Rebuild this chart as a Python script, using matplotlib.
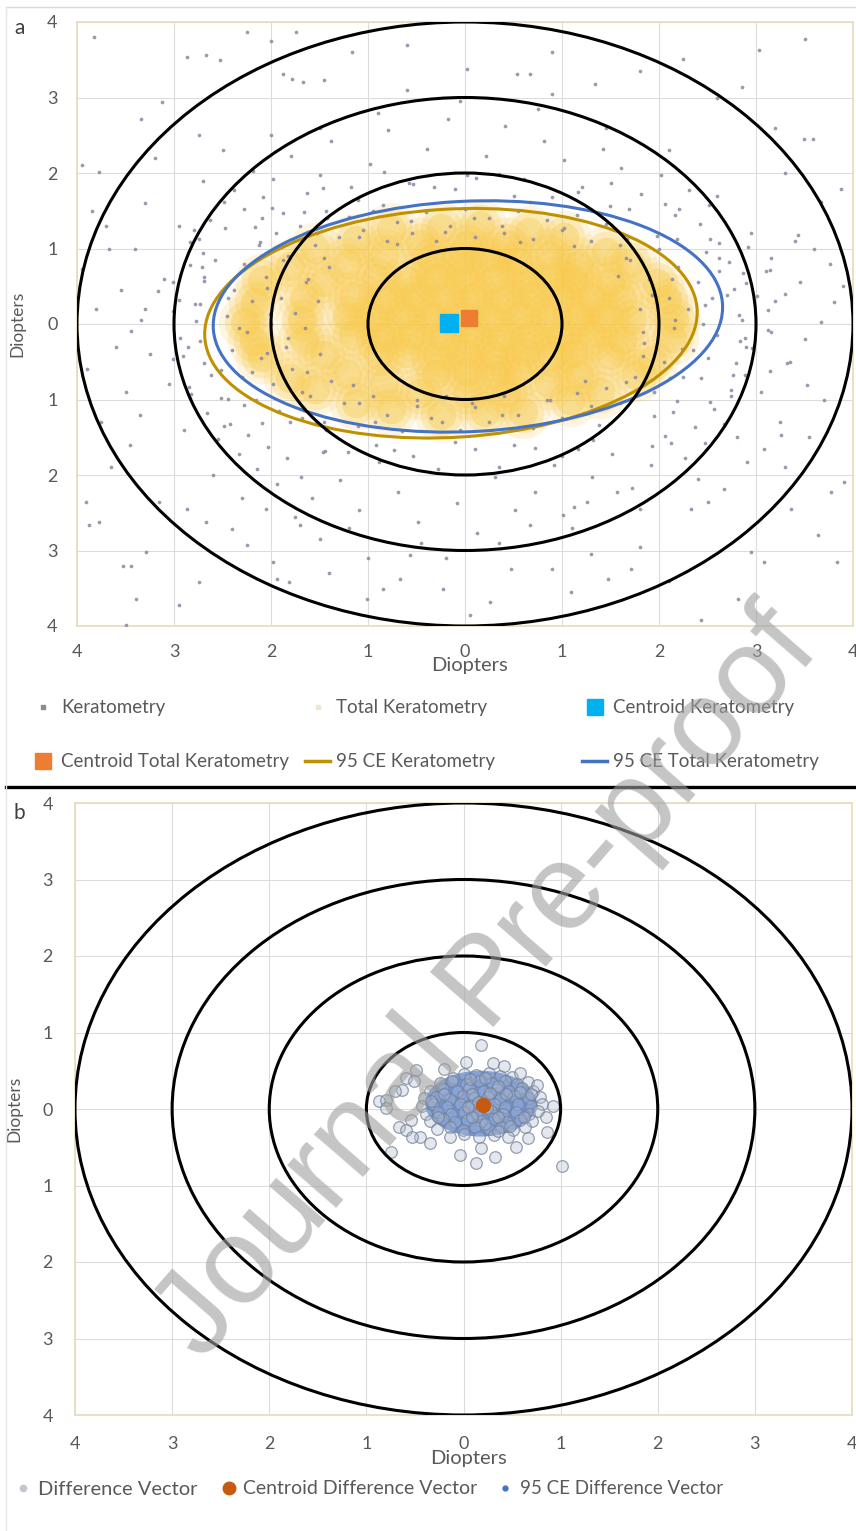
import numpy as np
import matplotlib.pyplot as plt
from matplotlib.patches import Circle, Ellipse
from matplotlib.lines import Line2D

plt.rcParams['font.family'] = ['Lato', 'DejaVu Sans']

TEXT = '#595959'
GRAY_PT, GOLD_PT = '#8a87a0', '#f8c948'
GOLD_CE, BLUE_CE = '#bf9000', '#4472c4'
CYAN_SQ, ORANGE_SQ, BROWN = '#00b0f0', '#ed7d31', '#c55a11'

TICKS = [-4, -3, -2, -1, 0, 1, 2, 3, 4]
RING_RADII = [1, 2, 3, 4]

# panel a: keratometry points (diopters)
KER_OUTER = [
    (-3.82, 3.80), (-2.25, 3.87), (-1.74, 3.87), (-2.87, 3.54), (-2.67, 3.56), (-2.53, 3.50),
    (-1.88, 3.31), (-1.78, 3.25), (-1.67, 3.20), (-1.45, 3.23), (-1.16, 3.60), (-3.12, 2.94),
    (-3.34, 2.72), (-2.74, 2.50), (-3.95, 2.10), (-3.77, 2.01), (-3.67, 0.99), (-3.95, 0.73),
    (3.51, 3.78), (3.03, 3.63), (2.25, 3.51), (1.34, 3.18), (0.02, 3.38), (0.54, 3.31),
    (0.67, 3.31), (2.86, 3.14), (3.49, 2.45), (3.59, 2.45), (3.88, 1.79), (3.67, 1.62),
    (3.43, 1.18), (3.60, 1.00), (3.76, 0.80), (3.67, 0.03), (3.80, 0.29), (3.53, -0.81),
    (-3.49, -3.99), (-2.95, -3.72), (-2.74, -3.42), (-3.39, -3.64), (-3.53, -3.20), (-3.44, -3.20),
    (-3.29, -3.02), (-3.88, -2.66), (-3.77, -2.62), (-3.91, -2.36), (-3.15, -2.36), (-2.87, -2.45),
    (-2.67, -2.62), (-2.40, -2.71), (-2.25, -2.93), (-2.05, -2.45), (-1.70, -2.66), (-1.50, -2.85),
    (-1.98, -3.15), (-1.81, -3.42), (-1.94, -3.38), (-1.01, -3.64), (-0.85, -3.51), (-0.67, -3.38),
    (-0.57, -3.06), (2.43, -3.92), (2.81, -3.64), (3.84, -3.15), (0.26, -3.68), (0.47, -3.24),
    (1.09, -3.55), (1.47, -3.38), (1.71, -3.24), (2.95, -3.02), (3.08, -3.15), (3.36, -2.45),
    (3.64, -2.79), (3.77, -2.23), (3.91, -2.09), (2.91, -1.83), (3.08, -1.65), (3.26, -1.47),
    (2.67, -2.18), (2.50, -2.36), (2.33, -2.45), (1.57, -2.23), (1.26, -2.36), (1.01, -2.53),
    (0.67, -2.66), (-0.23, -3.51), (0.05, -3.85),
    (-3.85, 1.50), (-3.70, 1.30), (-3.55, 0.45), (-3.80, 0.20), (-3.60, -0.30), (-3.90, -0.60),
    (-3.50, -0.90), (-3.75, -1.30), (-3.45, -1.60), (-3.65, -1.90), (-3.30, 1.60), (-3.20, 2.20),
    (3.30, 2.00), (3.50, -0.20), (3.45, 0.55), (3.70, -1.00), (3.30, -1.90), (3.55, -1.50),
    (3.90, 0.50), (3.20, 2.60), (-0.60, 3.70), (0.90, 3.60), (1.80, 3.35), (-2.00, 3.75),
    (2.60, 3.00), (-1.40, -3.30), (0.90, -3.25), (2.10, -3.40), (-0.20, -3.10), (1.80, -2.95),
]
KER_MID = [
    (-2.95, 0.32), (-2.91, -0.43), (-2.84, 0.78), (-2.82, -0.93), (-2.77, 0.04), (-2.74, 1.13),
    (-2.73, -0.22), (-2.69, 0.57), (-2.66, -1.18), (-2.63, 1.38), (-2.62, -0.67), (-2.78, 0.27),
    (-2.70, 0.94), (-2.55, -1.52), (-2.48, 1.62), (-2.52, -0.98), (-2.47, 1.27), (-2.42, -1.33),
    (-2.38, 1.78), (-2.33, -1.72), (-2.28, 1.52), (-2.24, -1.47), (-2.19, 2.03), (-2.14, -1.92),
    (-2.08, 1.68), (-2.03, -1.63), (-1.98, 1.92), (-1.94, -2.12), (-1.88, 1.47), (-1.83, -1.78),
    (-1.79, 2.22), (-1.69, -2.03), (-1.63, 1.73), (-1.58, -2.31), (-1.49, 1.97), (-1.44, -1.68),
    (-1.38, 2.42), (-1.29, -2.07), (-1.18, 1.82), (-1.09, -2.47), (-0.98, 2.12), (-0.89, -1.83),
    (-0.79, 2.57), (-0.69, -2.22), (-0.58, 1.87), (-0.48, -2.62), (-0.39, 2.32), (-0.28, -1.92),
    (-0.18, 2.72), (-0.08, -2.37), (0.02, 1.97), (0.12, -2.77), (0.22, 2.22), (0.31, -2.02),
    (0.41, 2.62), (0.52, -2.47), (0.61, 1.92), (0.72, -2.22), (0.81, 2.42), (0.92, -1.87),
    (1.02, 2.17), (1.12, -2.42), (1.21, 1.82), (1.31, -2.02), (1.42, 2.32), (1.52, -1.72),
    (1.61, 2.07), (1.72, -2.17), (1.81, 1.72), (1.92, -1.87), (2.02, 1.97), (2.12, -1.57),
    (2.21, 1.52), (2.27, -1.77), (2.31, 1.77), (2.37, -1.37), (2.42, 1.32), (2.47, -1.57),
    (2.52, 1.57), (2.57, -1.12), (2.62, 1.07), (2.67, -1.32), (2.72, 0.82), (2.74, -0.87),
    (2.77, 0.47), (2.79, -0.52), (2.82, 0.12), (2.84, -0.22), (2.87, 0.67), (2.89, -0.67),
    (2.92, 1.02), (2.96, -0.32), (3.01, 0.37),
    (-3.10, 0.60), (-3.05, -0.80), (-2.95, 1.30), (-2.90, -1.40), (-2.70, 1.90), (-2.60, -2.00),
    (-2.50, 2.30), (-2.30, -2.30), (-2.00, 2.50), (-1.75, -2.55), (-1.50, 2.60), (-1.20, -2.70),
    (-0.90, 2.80), (-0.45, -2.90), (-0.05, 2.95), (0.35, -2.90), (0.75, 2.85), (1.10, -2.70),
    (1.45, 2.60), (1.80, -2.45), (2.10, 2.30), (2.40, -2.05), (2.60, 1.70), (2.80, -1.50),
    (2.95, 1.20), (3.05, -0.90), (3.10, 0.70), (3.15, -0.10), (-3.30, 0.20), (-3.25, -0.40),
    (-3.40, 1.00), (-3.35, -1.20), (3.30, 0.40), (3.35, -0.50), (3.40, 1.10), (3.25, -1.30),
    (-0.60, 3.10), (0.90, 3.05), (-1.00, -3.10), (1.30, -3.05),
]
# just outside the 95% ellipses, where the cloud is still thick
KER_NEAR = [
    (2.86, 0.05), (3.20, 0.31), (2.90, 0.54), (3.15, 0.87), (2.48, 0.96), (2.19, 1.12),
    (2.16, 1.45), (1.69, 1.52), (1.51, 1.87), (0.90, 1.68), (0.50, 1.69), (0.11, 1.94),
    (-0.32, 1.81), (-0.83, 2.01), (-1.10, 1.64), (-1.43, 1.50), (-1.99, 1.54), (-2.17, 1.28),
    (-2.79, 1.24), (-2.58, 0.85), (-2.69, 0.62), (-3.16, 0.44), (-3.01, 0.17), (-3.44, -0.09),
    (-2.86, -0.31), (-2.69, -0.52), (-2.85, -0.84), (-2.44, -0.99), (-2.48, -1.35), (-1.80, -1.30),
    (-1.43, -1.40), (-1.21, -1.70), (-0.73, -1.67), (-0.36, -1.96), (0.10, -1.66), (0.50, -1.60),
    (1.00, -1.75), (1.32, -1.54), (1.93, -1.62), (1.95, -1.22), (2.19, -1.02), (2.74, -0.95),
    (2.76, -0.67), (3.32, -0.51), (2.89, -0.19),
    (3.12, 0.18), (2.70, 0.38), (3.14, 0.72), (2.62, 0.87), (2.53, 1.13), (1.98, 1.17),
    (2.06, 1.59), (1.49, 1.56), (1.17, 1.75), (0.67, 1.61), (0.35, 1.99), (-0.10, 1.79),
    (-0.54, 1.85), (-0.85, 1.58), (-1.46, 1.80), (-1.66, 1.49), (-2.09, 1.41), (-2.11, 1.09),
    (-2.83, 1.08), (-2.71, 0.76), (-3.01, 0.56), (-2.73, 0.27), (-3.34, 0.05), (-2.94, -0.19),
    (-3.01, -0.46), (-2.52, -0.61), (-2.83, -0.98), (-2.28, -1.07), (-2.09, -1.31), (-1.54, -1.28),
    (-1.46, -1.70), (-0.92, -1.60), (-0.54, -1.75), (-0.10, -1.56), (0.35, -1.89), (0.72, -1.64),
    (1.17, -1.65), (1.38, -1.34), (2.06, -1.49), (2.14, -1.16), (2.53, -1.03), (2.43, -0.71),
    (3.14, -0.62), (2.90, -0.31), (3.12, -0.08),
]
KER_INNER = [
    (-2.45, 0.10), (-2.40, -0.35), (-2.38, 0.45), (-2.30, -0.70), (-2.28, 0.80), (-2.25, -0.10),
    (-2.20, 0.30), (-2.15, -1.00), (-2.12, 1.05), (-2.10, -0.45), (-2.05, 0.62), (-2.00, 0.00),
    (-1.98, -0.80), (-1.95, 1.20), (-1.92, -1.15), (-1.90, 0.35), (-1.85, -0.30), (-1.82, 0.90),
    (-1.78, -0.60), (-1.75, 0.15), (-1.70, 1.30), (-1.68, -1.25), (-1.65, -0.05), (-1.62, 0.60),
    (-1.60, -0.95), (-1.55, 1.05), (-1.52, 0.30), (-1.50, -0.40), (-1.45, -1.30), (-1.42, 1.40),
    (-1.40, 0.75), (-1.38, -0.75),
    (-1.30, 1.15), (-1.20, 1.42), (-1.05, 1.25), (-0.95, 1.50), (-0.80, 1.10), (-0.70, 1.35),
    (-0.55, 1.20), (-0.40, 1.48), (-0.30, 1.10), (-0.15, 1.30), (0.00, 1.52), (0.10, 1.15),
    (0.25, 1.40), (0.40, 1.20), (0.55, 1.50), (0.70, 1.12), (0.85, 1.38), (1.00, 1.25),
    (1.15, 1.45), (1.30, 1.10), (1.45, 1.32), (1.60, 1.05),
    (-1.25, -1.05), (-1.10, -1.35), (-0.95, -0.95), (-0.80, -1.20), (-0.65, -1.42), (-0.50, -1.00),
    (-0.35, -1.25), (-0.20, -0.95), (-0.05, -1.40), (0.10, -1.10), (0.25, -1.30), (0.40, -0.95),
    (0.55, -1.20), (0.70, -1.38), (0.85, -1.00), (1.00, -1.25), (1.15, -0.92), (1.30, -1.15),
    (1.45, -0.85), (1.60, -1.05),
    (1.70, 0.85), (1.75, -0.70), (1.80, 0.20), (1.85, -0.25), (1.90, 0.60), (1.95, -0.90),
    (2.00, 1.00), (2.05, -0.50), (2.10, 0.35), (2.15, -0.05), (2.20, 0.75), (2.25, -0.70),
    (2.30, 0.20), (2.35, -0.35), (2.40, 0.55), (2.45, 0.00), (2.50, -0.45), (2.55, 0.35),
    (2.60, -0.15), (2.62, 0.70),
    (2.17, 0.05), (2.47, 0.25), (1.93, 0.38), (2.13, 0.60), (1.58, 0.63), (1.66, 0.87),
    (1.67, 1.13), (1.12, 1.03), (1.02, 1.27), (0.57, 1.09), (0.38, 1.30), (0.09, 1.41),
    (-0.21, 1.22), (-0.56, 1.37), (-0.70, 1.06), (-1.09, 1.15), (-1.53, 1.20), (-1.45, 0.87),
    (-1.88, 0.85), (-1.64, 0.56), (-2.04, 0.48), (-2.44, 0.35), (-2.01, 0.13), (-2.33, -0.05),
    (-1.82, -0.18), (-2.04, -0.38), (-2.20, -0.63), (-1.63, -0.64), (-1.68, -0.90), (-1.15, -0.81),
    (-1.09, -1.05), (-0.93, -1.30), (-0.49, -1.09), (-0.24, -1.30), (0.07, -1.04), (0.38, -1.20),
    (0.77, -1.34), (0.88, -1.01), (1.30, -1.08), (1.24, -0.76), (1.66, -0.77), (2.11, -0.72),
    (1.84, -0.43), (2.24, -0.33), (1.84, -0.10),
]
# total keratometry: the dense core and the thinner band around it
TK_CORE = [
    (-0.30, -0.66), (0.02, -0.63), (0.31, -0.67), (0.55, -0.62),
    (-0.90, -0.41), (-0.61, -0.38), (-0.29, -0.42), (0.01, -0.39), (0.30, -0.41), (0.62, -0.37),
    (0.90, -0.42), (1.12, -0.38),
    (-1.15, -0.14), (-0.86, -0.17), (-0.55, -0.13), (-0.24, -0.16), (0.06, -0.13), (0.37, -0.17),
    (0.67, -0.14), (0.98, -0.16), (1.30, -0.13),
    (-1.22, 0.11), (-0.93, 0.08), (-0.62, 0.12), (-0.32, 0.09), (-0.02, 0.11), (0.28, 0.08),
    (0.58, 0.12), (0.88, 0.09), (1.18, 0.11), (1.42, 0.08),
    (-1.14, 0.36), (-0.84, 0.33), (-0.53, 0.37), (-0.23, 0.34), (0.08, 0.36), (0.38, 0.33),
    (0.69, 0.37), (0.99, 0.34), (1.30, 0.36),
    (-0.92, 0.61), (-0.60, 0.58), (-0.30, 0.62), (0.00, 0.59), (0.31, 0.61), (0.62, 0.58),
    (0.92, 0.62), (1.12, 0.59),
    (-0.35, 0.86), (-0.04, 0.83), (0.27, 0.87), (0.55, 0.84),
]
TK_BAND = [
    (2.15, 0.08), (2.08, 0.33), (1.98, 0.54), (1.70, 0.81), (1.45, 0.96), (1.02, 1.15),
    (0.66, 1.22), (0.15, 1.31), (-0.25, 1.27), (-0.76, 1.26), (-1.12, 1.11), (-1.55, 1.00),
    (-1.80, 0.77), (-2.09, 0.58), (-2.17, 0.29), (-2.27, 0.03), (-2.18, -0.23), (-2.09, -0.44),
    (-1.80, -0.71), (-1.55, -0.86), (-1.12, -1.05), (-0.76, -1.12), (-0.25, -1.21), (0.21, -1.17),
    (0.60, -1.16), (1.08, -1.01), (1.39, -0.90), (1.76, -0.67), (1.93, -0.48), (2.13, -0.19),
    (1.72, 0.05), (1.62, 0.35), (1.49, 0.55), (1.18, 0.80), (0.87, 0.92), (0.42, 1.06),
    (0.02, 1.05), (-0.46, 1.06), (-0.83, 0.92), (-1.22, 0.80), (-1.45, 0.55), (-1.66, 0.35),
    (-1.68, 0.05), (-1.66, -0.21), (-1.45, -0.41), (-1.22, -0.66), (-0.83, -0.78), (-0.46, -0.92),
    (0.02, -0.91), (0.42, -0.92), (0.87, -0.78), (1.18, -0.66), (1.49, -0.41), (1.62, -0.21),
]
CENTROID_K = (-0.165, 0.01)
CENTROID_TK = (0.04, 0.08)
# 95% confidence ellipses: centre x, centre y, full width, full height, angle
CE_K = (-0.145, 0.01, 5.09, 3.02, 5)
CE_TK = (0.03, 0.10, 5.26, 3.05, 4)

# panel b: difference vectors
DV_CORE = [
    (0.00, 0.46), (0.13, 0.44), (0.26, 0.47), (0.38, 0.43), (-0.11, 0.41), (0.50, 0.42),
    (-0.24, 0.34), (-0.12, 0.36), (0.03, 0.33), (0.16, 0.36), (0.29, 0.34), (0.43, 0.37),
    (0.55, 0.33), (0.66, 0.35), (-0.34, 0.24), (-0.21, 0.26), (-0.07, 0.23), (0.06, 0.27),
    (0.20, 0.24), (0.34, 0.26), (0.47, 0.23), (0.60, 0.27), (0.72, 0.24), (-0.41, 0.14),
    (-0.28, 0.16), (-0.14, 0.13), (-0.01, 0.17), (0.11, 0.14), (0.25, 0.16), (0.38, 0.13),
    (0.52, 0.17), (0.66, 0.14), (0.79, 0.16), (-0.43, 0.04), (-0.31, 0.06), (-0.17, 0.03),
    (-0.04, 0.07), (0.08, 0.04), (0.31, 0.06), (0.43, 0.03), (0.56, 0.07), (0.69, 0.04),
    (0.81, 0.06), (-0.39, -0.06), (-0.26, -0.04), (-0.13, -0.07), (0.01, -0.04), (0.14, -0.06),
    (0.28, -0.03), (0.41, -0.07), (0.54, -0.04), (0.67, -0.06), (0.77, -0.03), (-0.34, -0.16),
    (-0.21, -0.13), (-0.09, -0.17), (0.04, -0.14), (0.18, -0.16), (0.31, -0.13), (0.45, -0.17),
    (0.58, -0.14), (0.71, -0.16), (-0.27, -0.26), (-0.14, -0.23), (-0.01, -0.27), (0.12, -0.24),
    (0.26, -0.26), (0.39, -0.23), (0.51, -0.27), (0.63, -0.24), (-0.14, -0.36), (0.01, -0.33),
    (0.16, -0.37), (0.31, -0.34), (0.46, -0.36),
    (0.07, 0.39), (0.22, 0.41), (0.36, 0.30), (0.09, 0.20), (0.27, 0.21), (0.44, 0.19),
    (0.15, 0.09), (0.24, 0.01), (0.36, -0.10), (0.09, -0.10), (0.22, -0.20), (0.36, -0.29),
    (0.58, 0.22), (0.62, -0.10), (-0.20, 0.20), (-0.26, -0.10), (-0.33, 0.10), (0.48, -0.22),
    (0.05, 0.02), (0.70, 0.20),
]
DV_OUTLIERS = [
    (0.18, 0.84), (0.03, 0.62), (0.30, 0.60), (0.42, 0.56), (-0.49, 0.51), (-0.59, 0.40),
    (-0.51, 0.36), (-0.63, 0.25), (-0.71, 0.24), (-0.87, 0.10), (-0.80, 0.12), (-0.80, 0.01),
    (-0.54, -0.14), (-0.66, -0.23), (-0.59, -0.28), (-0.45, -0.36), (-0.53, -0.37), (-0.75, -0.56),
    (-0.04, -0.60), (0.13, -0.71), (0.32, -0.63), (0.18, -0.51), (0.54, -0.50), (1.01, -0.74),
    (0.85, -0.10), (0.92, 0.04), (0.76, 0.32), (0.58, 0.47), (-0.20, 0.52), (0.66, -0.38),
    (-0.35, -0.45), (0.86, -0.30),
]
CENTROID_DV = (0.20, 0.05)
CE_DV = (0.18, 0.07, 1.15, 0.86, 0)


def xy(*lists):
    pts = np.array([p for lst in lists for p in lst])
    return pts[:, 0], pts[:, 1]


def setup(ax, ypad, xpad):
    ax.set_xlim(-4, 4)
    ax.set_ylim(-4, 4)
    ax.set_xticks(TICKS)
    ax.set_yticks(TICKS)
    ax.set_xticklabels([str(abs(t)) for t in TICKS])
    ax.set_yticklabels([str(abs(t)) for t in TICKS])
    ax.grid(color='#dcdcdc', linewidth=0.8)
    ax.set_axisbelow(True)
    ax.tick_params(axis='both', length=0, labelsize=13, labelcolor=TEXT)
    ax.tick_params(axis='y', pad=ypad)
    ax.tick_params(axis='x', pad=xpad)
    for s in ax.spines.values():
        s.set_color('#e6ddc2')
        s.set_linewidth(1.3)
    for r in RING_RADII:
        ax.add_patch(Circle((0, 0), r, fill=False, ec='black', lw=2.2, zorder=5))


def ce_patch(params, **kw):
    cx, cy, w, h, ang = params
    return Ellipse((cx, cy), w, h, angle=ang, **kw)


W, H = 856, 1531
fig = plt.figure(figsize=(W / 100, H / 100), dpi=100)
axa = fig.add_axes([77 / W, 1 - 626 / H, 776 / W, 604 / H])
axb = fig.add_axes([75 / W, 1 - 1415 / H, 777 / W, 612 / H])

# ---- panel a
setup(axa, 14, 13)
tx, ty = xy(TK_CORE, TK_BAND)
# stacked soft layers so the overlapping markers read as one dense cloud
for size, alpha in [(1500, 0.17), (900, 0.26), (450, 0.36)]:
    axa.scatter(tx, ty, s=size, color=GOLD_PT, alpha=alpha, linewidths=0, zorder=2)
kx, ky = xy(KER_OUTER, KER_MID, KER_NEAR, KER_INNER)
axa.scatter(kx, ky, s=7, color=GRAY_PT, alpha=0.85, linewidths=0, zorder=3)
axa.add_patch(ce_patch(CE_K, fill=False, ec=GOLD_CE, lw=2.2, zorder=4))
axa.add_patch(ce_patch(CE_TK, fill=False, ec=BLUE_CE, lw=2.2, zorder=4))
axa.plot(*CENTROID_K, marker='s', ms=13, color=CYAN_SQ, ls='', zorder=6)
axa.plot(*CENTROID_TK, marker='s', ms=12, color=ORANGE_SQ, ls='', zorder=6)
axa.set_xlabel('Diopters', fontsize=14.5, color=TEXT)
axa.xaxis.set_label_coords(0.506, -0.052)
axa.set_ylabel('Diopters', fontsize=12.5, color=TEXT)
axa.yaxis.set_label_coords(-0.066, 0.5)

# ---- panel b
setup(axb, 16, 15)
axb.add_patch(ce_patch(CE_DV, fc='#4a7bd6', ec='none', alpha=0.8, zorder=2))
dx, dy = xy(DV_CORE, DV_OUTLIERS)
axb.scatter(dx, dy, s=70, facecolors=(0.70, 0.74, 0.80, 0.35),
            edgecolors=(0.45, 0.51, 0.60, 0.75), linewidths=0.9, zorder=3)
axb.plot(*CENTROID_DV, marker='o', ms=10, color=BROWN, ls='', zorder=6)
axb.set_xlabel('Diopters', fontsize=14.5, color=TEXT)
axb.xaxis.set_label_coords(0.507, -0.058)
axb.set_ylabel('Diopters', fontsize=12.5, color=TEXT)
axb.yaxis.set_label_coords(-0.068, 0.5)

# ---- legends, one entry each so the columns sit where they do in the figure


def entry(handle, label, xpx, ypx, hl, fs=13.5):
    fig.legend([handle], [label], loc='center left',
               bbox_to_anchor=(xpx / W, 1 - ypx / H), frameon=False,
               fontsize=fs, labelcolor=TEXT, handlelength=hl, handletextpad=0.3,
               borderpad=0, borderaxespad=0)


def mk(marker, color, ms, **kw):
    return Line2D([], [], marker=marker, color=color, ms=ms, ls='', **kw)


entry(mk('s', '#8c8c8c', 3.5), 'Keratometry', 30, 708, 1.35)
entry(mk('s', '#efe6d2', 3.5), 'Total Keratometry', 305, 708, 1.35)
entry(mk('s', CYAN_SQ, 12), 'Centroid Keratometry', 582, 708, 1.35)
entry(mk('s', ORANGE_SQ, 12), 'Centroid Total Keratometry', 30, 762, 1.35)
entry(Line2D([], [], color=GOLD_CE, lw=2.5), '95 CE Keratometry', 305, 762, 1.35)
entry(Line2D([], [], color=BLUE_CE, lw=2.5), '95 CE Total Keratometry', 582, 762, 1.35)

entry(mk('o', '#c3c8d0', 4.5), 'Difference Vector', 14, 1489, 0.9, fs=14.5)
entry(mk('o', BROWN, 9), 'Centroid Difference Vector', 220, 1489, 0.9, fs=14)
entry(mk('o', BLUE_CE, 3.5), '95 CE Difference Vector', 497, 1489, 0.9, fs=13.5)

# ---- frame bits, panel letters, watermark
fig.add_artist(Line2D([6 / W, 1], [1 - 787 / H] * 2, transform=fig.transFigure,
                      color='black', lw=2.4))
fig.add_artist(Line2D([6 / W, 1], [1 - 7 / H] * 2, transform=fig.transFigure,
                      color='#d9d9d9', lw=1))
fig.add_artist(Line2D([6 / W, 6 / W], [0, 1 - 7 / H], transform=fig.transFigure,
                      color='#e6e6e6', lw=1))
fig.text(14 / W, 1 - 28 / H, 'a', fontsize=15, color='#404040', va='center')
fig.text(14 / W, 1 - 813 / H, 'b', fontsize=15, color='#404040', va='center')
fig.text(488 / W, 1 - 985 / H, 'Journal Pre-proof', family='Liberation Sans',
         fontsize=88, color='#9e9e9e', alpha=0.6, rotation=49,
         ha='center', va='center', rotation_mode='anchor', zorder=10)

fig.savefig('out.png', dpi=100, facecolor='white')
